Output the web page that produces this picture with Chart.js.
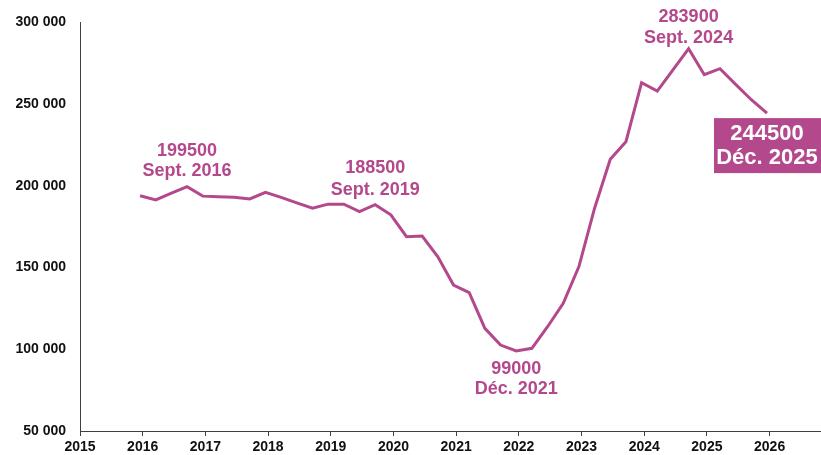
<!DOCTYPE html>
<html>
<head>
<meta charset="utf-8">
<script src="https://cdn.jsdelivr.net/npm/chart.js@4"></script>
<style>
  html, body { margin: 0; padding: 0; background: #fff; }
  #wrap { width: 821px; height: 455px; position: relative; }
</style>
</head>
<body>
<div id="wrap"><canvas id="chart"></canvas></div>
<script>
// Quarterly series, Dec 2015 -> Dec 2025
const dates = [
    '2015-12',
    '2016-03', '2016-06', '2016-09', '2016-12',
    '2017-03', '2017-06', '2017-09', '2017-12',
    '2018-03', '2018-06', '2018-09', '2018-12',
    '2019-03', '2019-06', '2019-09', '2019-12',
    '2020-03', '2020-06', '2020-09', '2020-12',
    '2021-03', '2021-06', '2021-09', '2021-12',
    '2022-03', '2022-06', '2022-09', '2022-12',
    '2023-03', '2023-06', '2023-09', '2023-12',
    '2024-03', '2024-06', '2024-09', '2024-12',
    '2025-03', '2025-06', '2025-09', '2025-12'
];
const values = [
    193900,
    191400, 195500, 199500, 193700,
    193400, 193000, 192000, 196000,
    192900, 189600, 186300, 188800,
    188800, 184300, 188500, 182300,
    168900, 169300, 156600, 139300,
    134600, 112800, 102600, 99000,
    100600, 113800, 128100, 150600,
    186300, 216200, 227000, 263100,
    258000, 271000, 283900, 268000,
    271700, 262100, 252700, 244500
];
const yearTicks = [2015, 2016, 2017, 2018, 2019, 2020, 2021, 2022, 2023, 2024, 2025, 2026];
const yTicks = [50000, 100000, 150000, 200000, 250000, 300000];

// Callouts: which point, text lines, vertical offsets of each line from the point
const callouts = [
    { date: '2016-09', lines: ['199500', 'Sept. 2016'], dy: [-36, -16] },
    { date: '2019-09', lines: ['188500', 'Sept. 2019'], dy: [-37, -15] },
    { date: '2021-12', lines: ['99000', 'Déc. 2021'], dy: [18, 38] },
    { date: '2024-09', lines: ['283900', 'Sept. 2024'], dy: [-32, -11] }
];
const lastCallout = { date: '2025-12', lines: ['244500', 'Déc. 2025'] };

const PINK = '#B4488C';
const FONT = '"Liberation Sans", Arial, sans-serif';

function dateToX(d) {
    const [y, m] = d.split('-').map(Number);
    return y + (m - 0.5) / 12;
}
function fmtThousands(v) {
    return String(v).replace(/\B(?=(\d{3})+(?!\d))/g, ' ');
}

const points = dates.map((d, i) => ({ x: dateToX(d), y: values[i] }));

const calloutPlugin = {
    id: 'callouts',
    afterDatasetsDraw(chart) {
        const ctx = chart.ctx;
        const xs = chart.scales.x;
        const ys = chart.scales.y;
        ctx.save();
        ctx.textAlign = 'center';
        ctx.textBaseline = 'middle';
        ctx.font = 'bold 18px ' + FONT;
        ctx.fillStyle = PINK;
        callouts.forEach(c => {
            const i = dates.indexOf(c.date);
            const px = xs.getPixelForValue(points[i].x);
            const py = ys.getPixelForValue(points[i].y);
            c.lines.forEach((t, k) => ctx.fillText(t, px, py + c.dy[k]));
        });

        // boxed final value
        const i = dates.indexOf(lastCallout.date);
        const px = xs.getPixelForValue(points[i].x);
        const py = ys.getPixelForValue(points[i].y);
        const boxTop = py + 5;
        const boxLeft = px - 53;
        ctx.fillStyle = PINK;
        ctx.fillRect(boxLeft, boxTop, chart.width - boxLeft, 55);
        ctx.fillStyle = '#fff';
        ctx.font = 'bold 22px ' + FONT;
        ctx.fillText(lastCallout.lines[0], px, boxTop + 16);
        ctx.fillText(lastCallout.lines[1], px, boxTop + 40);
        ctx.restore();
    }
};

new Chart(document.getElementById('chart'), {
    type: 'line',
    data: {
        datasets: [{
            data: points,
            borderColor: PINK,
            borderWidth: 3,
            pointRadius: 0,
            tension: 0,
            fill: false
        }]
    },
    options: {
        responsive: true,
        maintainAspectRatio: false,
        animation: false,
        events: [],
        layout: { padding: { top: 22, right: 0, left: 0, bottom: 0 } },
        plugins: {
            legend: { display: false },
            tooltip: { enabled: false }
        },
        scales: {
            x: {
                type: 'linear',
                min: 2015,
                max: 2026.82,
                afterBuildTicks: axis => { axis.ticks = yearTicks.map(v => ({ value: v })); },
                afterFit: axis => { axis.height = 24; },
                grid: { drawOnChartArea: false, drawTicks: true, tickLength: 5, color: '#404040' },
                border: { color: '#404040', width: 1 },
                ticks: {
                    color: '#111',
                    padding: 3,
                    maxRotation: 0,
                    autoSkip: false,
                    font: { family: FONT, size: 14, weight: 'bold' },
                    callback: v => String(v)
                }
            },
            y: {
                min: 50000,
                max: 300000,
                afterBuildTicks: axis => { axis.ticks = yTicks.map(v => ({ value: v })); },
                afterFit: axis => { axis.width = 80; },
                grid: { display: true, drawOnChartArea: false, drawTicks: false },
                border: { color: '#404040', width: 1 },
                ticks: {
                    color: '#111',
                    padding: 14,
                    font: { family: FONT, size: 14, weight: 'bold' },
                    callback: v => fmtThousands(v)
                }
            }
        }
    },
    plugins: [calloutPlugin]
});
</script>
</body>
</html>
